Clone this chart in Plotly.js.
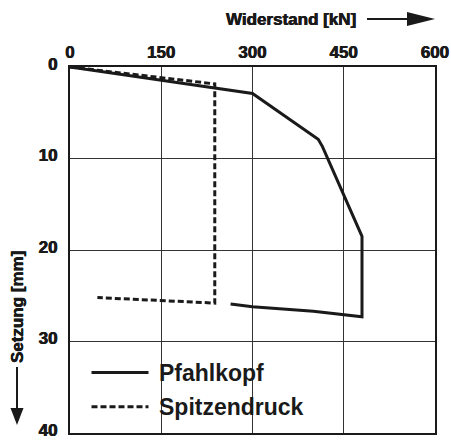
<!DOCTYPE html>
<html>
<head>
<meta charset="utf-8">
<script src="https://cdn.plot.ly/plotly-3.0.1.min.js"></script>
<style>html,body{margin:0;padding:0;background:#fff;}#chart{width:451px;height:441px;}</style>
</head>
<body>
<div id="chart"></div>
<script>
// Data
var xTickVals = [0, 150, 300, 450, 600];
var yTickVals = [0, 10, 20, 30, 40];
var seriesNames = ["Pfahlkopf", "Spitzendruck"];
var pfahlkopfKN = [0, 300, 408, 415, 480, 480, 400, 300, 264];
var pfahlkopfMM = [0, 2.9, 7.9, 8.7, 18.5, 27.3, 26.7, 26.2, 25.9];
var spitzendruckKN = [0, 238, 238, 45];
var spitzendruckMM = [0, 1.85, 25.8, 25.2];
var xTitle = "Widerstand [kN]";
var yTitle = "Setzung [mm]";

var sans = "'Liberation Sans', Arial, sans-serif";
var heavy = "0.35px 0 0 #1a1a1a, -0.35px 0 0 #1a1a1a";

// helpers: pixel -> paper coords (plot area x 70..435, y 67..433)
function px(x) { return (x - 70) / 365; }
function py(y) { return (433 - y) / 366; }

var traces = [
  {x: pfahlkopfKN, y: pfahlkopfMM, name: seriesNames[0], mode: "lines",
   line: {color: "#1a1a1a", width: 3}, showlegend: false, hoverinfo: "skip"},
  {x: spitzendruckKN, y: spitzendruckMM, name: seriesNames[1], mode: "lines",
   line: {color: "#1a1a1a", width: 3, dash: "6px,3px"}, showlegend: false, hoverinfo: "skip"}
];

var shapes = [
  // legend background
  {type: "rect", xref: "paper", yref: "paper", x0: px(73), x1: px(318), y0: py(350), y1: py(429),
   fillcolor: "#fff", line: {width: 0}, layer: "between"},
  // legend samples
  {type: "line", xref: "paper", yref: "paper", x0: px(91.5), x1: px(148.5), y0: py(372.5), y1: py(372.5),
   line: {color: "#1a1a1a", width: 3}},
  {type: "line", xref: "paper", yref: "paper", x0: px(91.5), x1: px(148.5), y0: py(406.7), y1: py(406.7),
   line: {color: "#1a1a1a", width: 3, dash: "6px,3px"}},
  // top arrow
  {type: "line", xref: "paper", yref: "paper", x0: px(367), x1: px(410), y0: py(19), y1: py(19),
   line: {color: "#1a1a1a", width: 2}},
  {type: "path", xref: "paper", yref: "paper",
   path: "M" + px(407) + "," + py(12) + " L" + px(435) + "," + py(19) + " L" + px(407) + "," + py(26) + " Z",
   fillcolor: "#1a1a1a", line: {width: 0}},
  // left arrow
  {type: "line", xref: "paper", yref: "paper", x0: px(17), x1: px(17), y0: py(367), y1: py(411),
   line: {color: "#1a1a1a", width: 2}},
  {type: "path", xref: "paper", yref: "paper",
   path: "M" + px(10.5) + "," + py(408) + " L" + px(17) + "," + py(425) + " L" + px(23.5) + "," + py(408) + " Z",
   fillcolor: "#1a1a1a", line: {width: 0}}
];

var annotations = [
  {text: xTitle, xref: "paper", yref: "paper", x: px(358), y: py(19), xanchor: "right", yanchor: "middle",
   showarrow: false, font: {family: sans, size: 17, weight: 700, color: "#1a1a1a", shadow: heavy}},
  {text: yTitle, xref: "paper", yref: "paper", x: px(17), y: py(307), xanchor: "center", yanchor: "middle",
   textangle: -90, showarrow: false, font: {family: sans, size: 17, weight: 700, color: "#1a1a1a", shadow: heavy}},
  {text: seriesNames[0], xref: "paper", yref: "paper", x: px(157), y: py(373), xanchor: "left", yanchor: "middle",
   showarrow: false, font: {family: sans, size: 23, weight: 700, color: "#1a1a1a"}},
  {text: seriesNames[1], xref: "paper", yref: "paper", x: px(157), y: py(407), xanchor: "left", yanchor: "middle",
   showarrow: false, font: {family: sans, size: 23, weight: 700, color: "#1a1a1a"}}
];

var layout = {
  width: 451, height: 441,
  margin: {l: 70, r: 16, t: 67, b: 8, pad: 0},
  paper_bgcolor: "#fff", plot_bgcolor: "#fff",
  showlegend: false,
  xaxis: {
    side: "top", range: [0, 600], tickvals: xTickVals, ticktext: xTickVals.map(String),
    showgrid: true, gridcolor: "#333", gridwidth: 1, zeroline: false,
    showline: true, mirror: true, linecolor: "#1a1a1a", linewidth: 2,
    ticks: "", ticklabelstandoff: 0, ticklabeloverflow: "allow",
    tickfont: {family: sans, size: 17, weight: 700, color: "#1a1a1a", shadow: heavy},
    fixedrange: true
  },
  yaxis: {
    range: [40, 0], tickvals: yTickVals, ticktext: yTickVals.map(String),
    showgrid: true, gridcolor: "#333", gridwidth: 1, zeroline: false,
    showline: true, mirror: true, linecolor: "#1a1a1a", linewidth: 2,
    ticks: "", ticklabelstandoff: 7, ticklabeloverflow: "allow", ticklabelshift: 3,
    tickfont: {family: sans, size: 17, weight: 700, color: "#1a1a1a", shadow: heavy},
    fixedrange: true
  },
  shapes: shapes,
  annotations: annotations
};

Plotly.newPlot("chart", traces, layout, {staticPlot: true, displayModeBar: false});
</script>
</body>
</html>
